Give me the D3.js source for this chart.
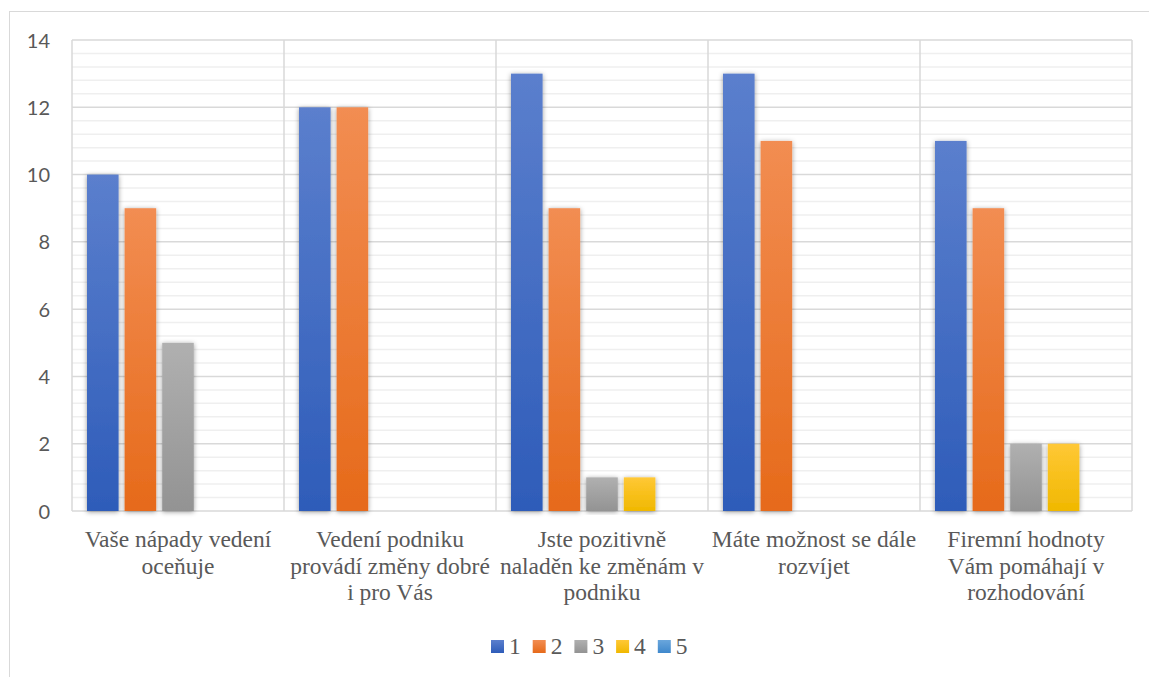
<!DOCTYPE html>
<html><head><meta charset="utf-8">
<script src="https://cdn.jsdelivr.net/npm/d3@7"></script>
<style>html,body{margin:0;padding:0;background:#fff;}svg{display:block;}</style>
</head><body>
<svg id="c" width="1149" height="677"></svg>
<script>
const categories = [
  ["Vaše nápady vedení", "oceňuje"],
  ["Vedení podniku", "provádí změny dobré", "i pro Vás"],
  ["Jste pozitivně", "naladěn ke změnám v", "podniku"],
  ["Máte možnost se dále", "rozvíjet"],
  ["Firemní hodnoty", "Vám pomáhají v", "rozhodování"]
];
const seriesNames = ["1", "2", "3", "4", "5"];
const s1 = [10, 12, 13, 13, 11];
const s2 = [9, 12, 9, 11, 9];
const s3 = [5, 0, 1, 0, 2];
const s4 = [0, 0, 1, 0, 2];
const s5 = [0, 0, 0, 0, 0];
const yTicks = [0, 2, 4, 6, 8, 10, 12, 14];

const seriesValues = [s1, s2, s3, s4, s5];
const colors = [
  ["#5b7fcd", "#2e5cb9"],
  ["#f28d52", "#e66a1a"],
  ["#b0b0b0", "#939393"],
  ["#ffc836", "#f0b800"],
  ["#6aa6dc", "#3f88cc"]
];
const SERIF = "'Liberation Serif', serif";
const SANS = "'Lato', sans-serif";

const svg = d3.select("#c");
const defs = svg.append("defs");
colors.forEach((c, i) => {
  const g = defs.append("linearGradient").attr("id", "g" + i)
    .attr("x1", 0).attr("y1", 0).attr("x2", 0).attr("y2", 1);
  g.append("stop").attr("offset", "0%").attr("stop-color", c[0]);
  g.append("stop").attr("offset", "100%").attr("stop-color", c[1]);
});
const f = defs.append("filter").attr("id", "sh").attr("x", "-40%").attr("y", "-10%").attr("width", "180%").attr("height", "120%");
f.append("feDropShadow").attr("dx", 0).attr("dy", 1).attr("stdDeviation", 2.5)
  .attr("flood-color", "#000").attr("flood-opacity", 0.4);

// outer frame
svg.append("rect").attr("x", 9.5).attr("y", 11.5).attr("width", 1160).attr("height", 700)
  .attr("fill", "none").attr("stroke", "#d9d9d9").attr("stroke-width", 1);

const L = 72, R = 1132, T = 40, B = 511;
const x = d3.scaleBand().domain(d3.range(categories.length)).range([L, R]).paddingInner(0).paddingOuter(0);
const y = d3.scaleLinear().domain([0, 14]).range([B, T]);
const xs = d3.scaleBand().domain(d3.range(seriesNames.length)).range([15, x.bandwidth() - 15]).paddingInner(0.16).paddingOuter(0);

// minor gridlines
const minor = d3.range(0, 14.001, 0.4).filter(v => Math.abs(v / 2 - Math.round(v / 2)) > 1e-6);
svg.append("g").selectAll("line").data(minor).join("line")
  .attr("x1", L).attr("x2", R).attr("y1", d => y(d)).attr("y2", d => y(d))
  .attr("stroke", "#efefef").attr("stroke-width", 1.5);
// major gridlines
svg.append("g").selectAll("line").data(yTicks).join("line")
  .attr("x1", L).attr("x2", R).attr("y1", d => y(d)).attr("y2", d => y(d))
  .attr("stroke", "#d9d9d9").attr("stroke-width", 1.5);
// vertical gridlines
const vb = d3.range(categories.length + 1).map(i => i < categories.length ? x(i) : R);
svg.append("g").selectAll("line").data(vb).join("line")
  .attr("x1", d => d).attr("x2", d => d).attr("y1", T).attr("y2", B)
  .attr("stroke", "#d9d9d9").attr("stroke-width", 1.5);

// bars
seriesValues.forEach((vals, si) => {
  svg.append("g").selectAll("rect").data(vals.map((v, ci) => ({v, ci}))).join("rect")
    .filter(d => d.v > 0)
    .attr("x", d => x(d.ci) + xs(si))
    .attr("width", xs.bandwidth())
    .attr("y", d => y(d.v))
    .attr("height", d => y(0) - y(d.v))
    .attr("fill", "url(#g" + si + ")")
    .attr("filter", "url(#sh)");
});

// y axis labels
const yAxis = d3.axisLeft(y).tickValues(yTicks).tickSize(0).tickPadding(0);
const ya = svg.append("g").attr("transform", "translate(50,0)").call(yAxis);
ya.select(".domain").remove();
ya.selectAll("text").style("font-family", SANS)
  .style("font-size", "20px").attr("fill", "#595959").attr("dy", "0.35em");

// x labels
const xl = svg.append("g");
categories.forEach((lines, ci) => {
  const t = xl.append("text").attr("x", x(ci) + x.bandwidth() / 2).attr("y", 547)
    .attr("text-anchor", "middle").style("font-family", SERIF).style("font-size", "23.5px").attr("fill", "#595959");
  lines.forEach((ln, li) => {
    t.append("tspan").attr("x", x(ci) + x.bandwidth() / 2).attr("dy", li === 0 ? 0 : 26.5).text(ln);
  });
});

// legend
const lg = svg.append("g");
seriesNames.forEach((n, i) => {
  const lx = 491 + i * 41.7;
  lg.append("rect").attr("x", lx).attr("y", 640).attr("width", 13).attr("height", 13).attr("fill", "url(#g" + i + ")");
  lg.append("text").attr("x", lx + 18).attr("y", 654).text(n)
    .style("font-family", SERIF).style("font-size", "23.5px").attr("fill", "#595959");
});
</script>
</body></html>
